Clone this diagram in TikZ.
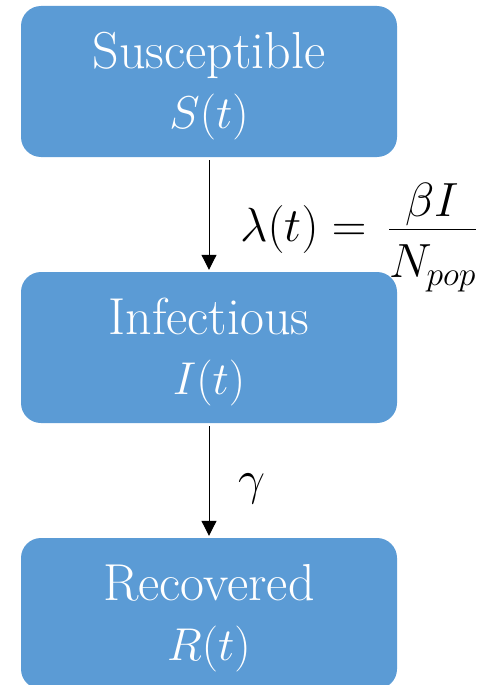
\RequirePackage{fix-cm}
\documentclass[tikz,border=0pt]{standalone}
\usepackage{amsmath}
\usetikzlibrary{arrows.meta}
\definecolor{boxblue}{HTML}{5B9BD5}
\newcommand{\mytall}{\rule{0pt}{44.5pt}}
\newcommand{\boxmath}[1]{{\fontsize{46}{60}\selectfont$#1$}}
\begin{document}
\begin{tikzpicture}[x=1pt,y=-1pt,
  compbox/.style={fill=boxblue, draw=none, rounded corners=20pt,
    minimum width=376pt, minimum height=151pt, text=white, align=center,
    font=\fontsize{52}{60}\selectfont, inner sep=0pt},
  flow/.style={draw=black, line width=1pt,
    -{Triangle[width=15pt,length=15pt]}, shorten <=3pt, shorten >=2pt},
  lab/.style={font=\fontsize{48}{56}\selectfont, inner sep=0pt}]
\useasboundingbox (0,0) rectangle (484,685);
\node[compbox] (s) at (209,81.5) {\mytall Susceptible\\\boxmath{S(t)}};
\node[compbox] (i) at (209,347.5) {\mytall Infectious\\\boxmath{I(t)}};
\node[compbox] (r) at (209,613.5) {\mytall Recovered\\\boxmath{R(t)}};
\draw[flow] (s) -- (i);
\draw[flow] (i) -- (r);
\node[lab, anchor=base west] (lam) at (240,241)
  {$\lambda(t)=\,\dfrac{\raisebox{-12pt}[0pt][0pt]{$\beta I$}}{\raisebox{-4pt}[0pt][0pt]{$N_{pop}$}}$};
\node[lab] (gam) at (252,489) {$\gamma$};
\end{tikzpicture}
\end{document}
